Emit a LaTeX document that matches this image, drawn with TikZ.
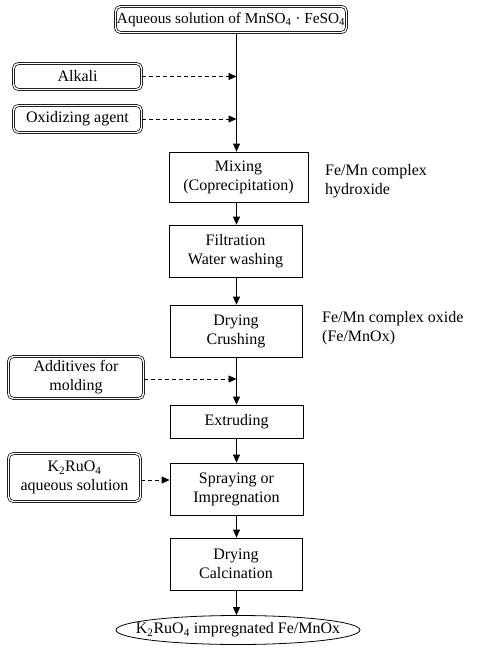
\documentclass[tikz,border=0pt]{standalone}
\usepackage{fontspec}
\setmainfont{Liberation Serif}
\usetikzlibrary{arrows.meta,shapes.geometric}
\begin{document}
\begin{tikzpicture}[x=1pt,y=-1pt,
  font=\fontsize{16}{19}\selectfont,
  stepbox/.style={draw,line width=0.8pt,inner sep=0pt,align=center},
  inbox/.style={draw,line width=0.7pt,double,double distance=1.4pt,rounded corners=5pt,inner sep=0pt,align=center},
  sidelabel/.style={anchor=west,align=left,inner sep=0pt},
  flow/.style={line width=0.8pt,-{Triangle[length=8pt,width=7pt]}},
  feed/.style={flow,dash pattern=on 4pt off 3pt}]
\useasboundingbox (0,0) rectangle (479,650);
\node[inbox,minimum width=231pt,minimum height=26pt,font=\fontsize{15.3}{18}\selectfont] (top) at (231,19.5) {Aqueous solution of MnSO\textsubscript{4} · FeSO\textsubscript{4}};
\node[inbox,minimum width=128pt,minimum height=26pt] (alk) at (77.5,76.5) {Alkali};
\node[inbox,minimum width=128pt,minimum height=27pt] (oxa) at (77.5,119) {Oxidizing agent};
\node[stepbox,minimum width=139pt,minimum height=50pt] (mix) at (238.5,177) {Mixing\\(Coprecipitation)};
\node[stepbox,minimum width=133pt,minimum height=52pt] (fil) at (235.5,251) {Filtration\\Water washing};
\node[stepbox,minimum width=132pt,minimum height=52pt] (dc) at (236,331) {Drying\\Crushing};
\node[inbox,minimum width=135pt,minimum height=42pt] (add) at (76,377.5) {Additives for\\molding};
\node[stepbox,minimum width=133pt,minimum height=33pt] (ext) at (236.5,421.5) {Extruding};
\node[inbox,minimum width=132pt,minimum height=48pt] (kru) at (74.5,477.5) {K\textsubscript{2}RuO\textsubscript{4}\\aqueous solution};
\node[stepbox,minimum width=133pt,minimum height=52pt] (spr) at (236.5,489) {Spraying or\\Impregnation};
\node[stepbox,minimum width=132pt,minimum height=52pt] (dca) at (236,564) {Drying\\Calcination};
\node[draw,line width=0.8pt,ellipse,inner sep=0pt,minimum width=244pt,minimum height=29pt] (fin) at (238,630) {\makebox[0pt]{K\textsubscript{2}RuO\textsubscript{4} impregnated Fe/MnOx}};
\node[sidelabel] (lab1) at (325,181) {Fe/Mn complex\\hydroxide};
\node[sidelabel] (lab2) at (322,328) {Fe/Mn complex oxide\\(Fe/MnOx)};
\coordinate (j1) at (236.5,76.5);
\coordinate (j2) at (236.5,119);
\coordinate (j3) at (236.5,379);
\coordinate (j4) at (236.5,480);
\draw[flow] (top.south -| j1) -- (mix.north -| j1);
\draw[feed] (alk.east) -- (j1);
\draw[feed] (oxa.east) -- (j2);
\draw[flow] (mix.south -| j1) -- (fil.north -| j1);
\draw[flow] (fil.south -| j1) -- (dc.north -| j1);
\draw[flow] (dc.south -| j1) -- (ext.north -| j1);
\draw[feed] (add.east |- j3) -- (j3);
\draw[flow] (ext.south -| j1) -- (spr.north -| j1);
\draw[feed] (kru.east |- j4) -- (spr.west |- j4);
\draw[flow] (spr.south -| j1) -- (dca.north -| j1);
\draw[flow] (dca.south -| j1) -- (fin.north -| j1);
\end{tikzpicture}
\end{document}
